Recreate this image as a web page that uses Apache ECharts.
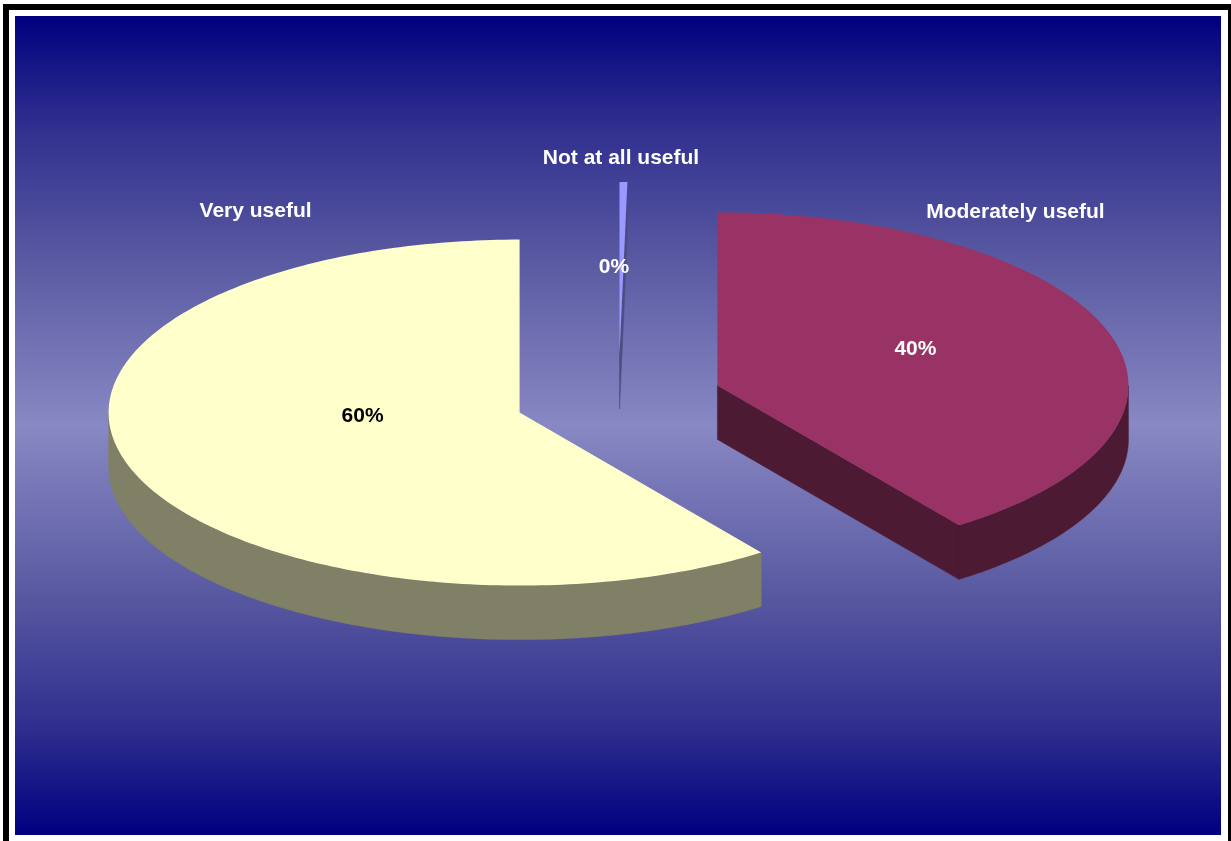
<!DOCTYPE html>
<html>
<head>
<meta charset="utf-8">
<script src="https://cdn.jsdelivr.net/npm/echarts@6/dist/echarts.min.js"></script>
<style>
  html, body { margin: 0; padding: 0; background: #ffffff; }
  #chart { width: 1231px; height: 841px; }
</style>
</head>
<body>
<div id="chart"></div>
<script>
// Survey answers and their shares (percent)
const categories = ['Not at all useful', 'Moderately useful', 'Very useful'];
const shares = [0, 40, 60];
const topColors = ['#9999FF', '#993366', '#FFFFCC'];
const pctColors = ['#FFFFFF', '#FFFFFF', '#000000'];

// Tilted, exploded pie layout (pixels)
const pie = {
  cx: 618.5, cy: 399,      // centre of the top face
  rx: 411, ry: 173,        // ellipse radii of the top face
  depth: 54,               // thickness of the disc
  explodeX: 104, explodeY: 44,
  minAngle: 1.1            // a zero slice is still drawn as a thin wedge
};
// Label placement relative to each slice's apex
const nameOffsets = [[1.5, -197], [298, -173], [-264, -201]];
const pctOffsets = [[-5.5, -88], [198, -36], [-157, 4]];

const total = shares.reduce((a, b) => a + b, 0);
const startAngles = [];
{
  let acc = 0;
  shares.forEach(v => { startAngles.push(acc); acc += v / total * 360; });
}

function darken(hex, f) {
  const n = parseInt(hex.slice(1), 16);
  const r = Math.round(((n >> 16) & 255) * f);
  const g = Math.round(((n >> 8) & 255) * f);
  const b = Math.round((n & 255) * f);
  return 'rgb(' + r + ',' + g + ',' + b + ')';
}

const rad = d => d * Math.PI / 180;

function renderItem(params, api) {
  const i = params.dataIndex;
  const value = api.value(1);
  const a0 = startAngles[i];
  const span = Math.max(value / total * 360, pie.minAngle);
  const a1 = a0 + span;
  const mid = (a0 + a1) / 2;
  const ox = pie.cx + pie.explodeX * Math.sin(rad(mid));
  const oy = pie.cy - pie.explodeY * Math.cos(rad(mid));
  const rim = (a, dy) => [ox + pie.rx * Math.sin(rad(a)), oy - pie.ry * Math.cos(rad(a)) + (dy || 0)];

  const top = topColors[i];
  const side = darken(top, 0.5);
  const children = [];

  // radial walls facing the viewer
  const wall = a => ({
    type: 'polygon',
    shape: { points: [[ox, oy], rim(a), rim(a, pie.depth), [ox, oy + pie.depth]] },
    style: { fill: side, stroke: side, lineWidth: 0.5 }
  });
  if (Math.sin(rad(a0)) < -1e-6) children.push(wall(a0));
  if (Math.sin(rad(a1)) > 1e-6) children.push(wall(a1));

  // front part of the curved outer wall
  const f0 = Math.max(a0, 90), f1 = Math.min(a1, 270);
  if (f1 > f0) {
    const pts = [];
    const steps = Math.max(2, Math.ceil(f1 - f0));
    for (let s = 0; s <= steps; s++) pts.push(rim(f0 + (f1 - f0) * s / steps));
    for (let s = steps; s >= 0; s--) pts.push(rim(f0 + (f1 - f0) * s / steps, pie.depth));
    children.push({ type: 'polygon', shape: { points: pts }, style: { fill: side, stroke: side, lineWidth: 0.5 } });
  }

  // top face
  const topPts = [[ox, oy]];
  const tSteps = Math.max(2, Math.ceil(span));
  for (let s = 0; s <= tSteps; s++) topPts.push(rim(a0 + span * s / tSteps));
  children.push({ type: 'polygon', shape: { points: topPts }, style: { fill: top } });

  // labels
  const font = 'bold 21px "Liberation Sans", Arial, sans-serif';
  children.push({
    type: 'text',
    x: ox + nameOffsets[i][0], y: oy + nameOffsets[i][1],
    style: { text: categories[i], font: font, fill: '#FFFFFF', align: 'center', verticalAlign: 'middle' },
    z2: 10
  });
  children.push({
    type: 'text',
    x: ox + pctOffsets[i][0], y: oy + pctOffsets[i][1],
    style: { text: Math.round(value / total * 100) + '%', font: font, fill: pctColors[i], align: 'center', verticalAlign: 'middle' },
    z2: 10
  });

  return { type: 'group', children: children };
}

const chart = echarts.init(document.getElementById('chart'), null, { renderer: 'canvas' });
chart.setOption({
  animation: false,
  backgroundColor: '#ffffff',
  graphic: [
    { type: 'rect', z: -30, shape: { x: 3, y: 4, width: 1228, height: 840 }, style: { fill: '#000000' } },
    { type: 'rect', z: -29, shape: { x: 9, y: 10, width: 1219, height: 840 }, style: { fill: '#ffffff' } },
    {
      type: 'rect', z: -28, shape: { x: 15, y: 16, width: 1206, height: 819 },
      style: {
        fill: new echarts.graphic.LinearGradient(0, 0, 0, 1, [
          { offset: 0, color: '#000080' },
          { offset: 0.13, color: '#2e2e8e' },
          { offset: 0.3, color: '#5a5aa2' },
          { offset: 0.5, color: '#8888c4' },
          { offset: 0.7, color: '#5a5aa2' },
          { offset: 0.87, color: '#2e2e8e' },
          { offset: 1, color: '#000080' }
        ])
      }
    }
  ],
  series: [{
    type: 'custom',
    coordinateSystem: 'none',
    renderItem: renderItem,
    data: categories.map((c, i) => ({ name: c, value: [i, shares[i]] })),
    z: 5
  }]
});
</script>
</body>
</html>
